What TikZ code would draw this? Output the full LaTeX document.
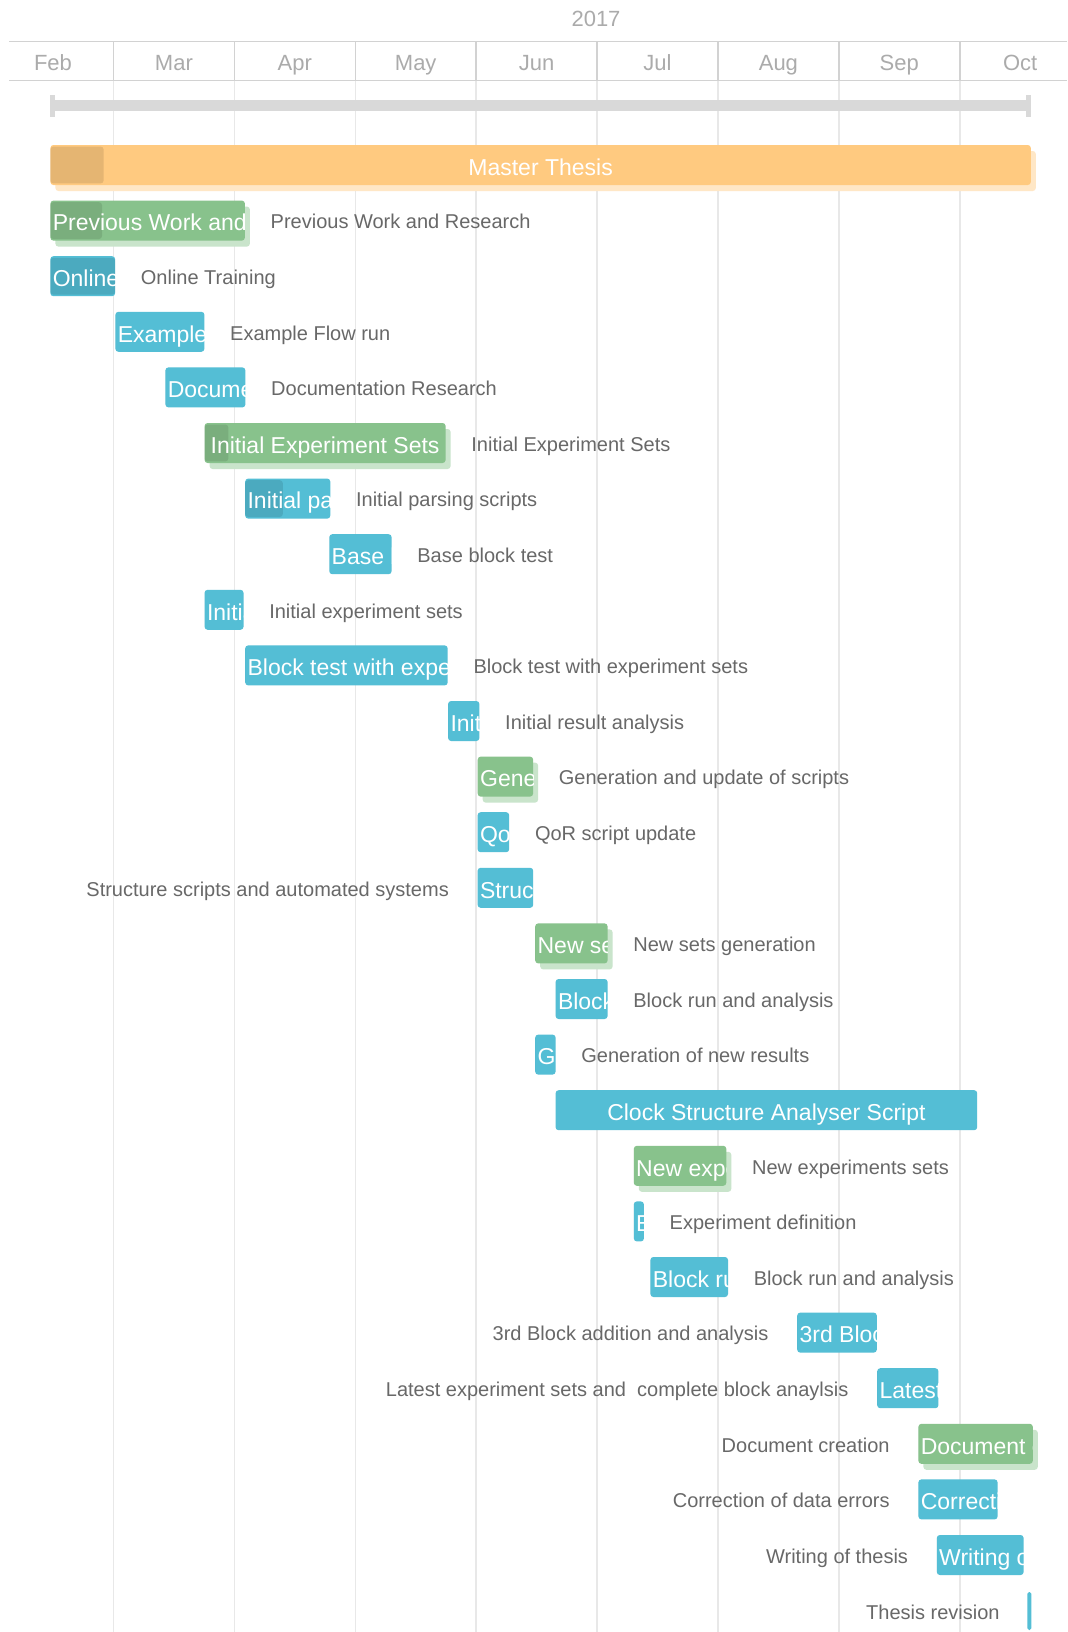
\documentclass[tikz,border=0pt]{standalone}
\usepackage{fontspec}
\setmainfont{Liberation Sans}
\usetikzlibrary{positioning,shadows}

\definecolor{barblue}{HTML}{54BED5}
\definecolor{bargreen}{HTML}{88C28C}
\definecolor{barorange}{HTML}{FFCA80}
\definecolor{labelgray}{HTML}{686868}
\definecolor{monthgray}{HTML}{ABABAB}
\definecolor{gridgray}{HTML}{E8E8E8}
\definecolor{headgray}{HTML}{D2D2D2}
\definecolor{rangegray}{HTML}{D9D9D9}

\begin{document}
\begin{tikzpicture}[x=0.5pt, y=-0.5pt,
  taskbar/.style={anchor=west, rectangle, rounded corners=1.5pt, fill=barblue, minimum height=20pt, inner sep=0pt,
    text=white, text height=10.4pt, text depth=0pt, font=\fontsize{11.5}{13}\selectfont},
  groupbar/.style={taskbar, fill=#1, general shadow={fill=#1!45, shadow xshift=2.5pt, shadow yshift=-3pt}},
  groupbar/.default=bargreen,
  len/.style={minimum width={#1*0.5pt}},
  cut/.style 2 args={path picture={
    \fill[black, opacity=0.1, rounded corners=1.5pt] ([yshift=0.8pt]path picture bounding box.south west) rectangle ([xshift=#2, yshift=-0.8pt]path picture bounding box.north west);
    \node[anchor=base west, inner sep=0pt, text=white] at ([xshift=1pt, yshift=-5.1pt]path picture bounding box.west) {#1};}},
  cuttext/.style={cut={#1}{0pt}},
  tasklabel/.style={inner sep=0pt, text=labelgray, text height=8.2pt, text depth=0pt, font=\fontsize{10}{12}\selectfont},
  month/.style={inner sep=0pt, text=monthgray, text height=7.9pt, text depth=0pt, font=\fontsize{11}{13}\selectfont}]

  \useasboundingbox[fill=white] (0,0) rectangle (1067,1632);

  % month grid and header
  \foreach \i in {0,...,7}{
    \draw[gridgray, line width=0.75pt] (113.5+120.9*\i,80.3) -- (113.5+120.9*\i,1632);
    \draw[headgray, line width=0.75pt] (113.5+120.9*\i,41.7) -- (113.5+120.9*\i,80.3);
  }
  \draw[headgray, line width=0.75pt] (9.3,41.7) -- (1067,41.7);
  \draw[headgray, line width=0.75pt] (9.3,80.3) -- (1067,80.3);
  \node[month] (year) at (596,19) {2017};
  \foreach \m [count=\i from 0] in {Feb,Mar,Apr,May,Jun,Jul,Aug,Sep,Oct}
    \node[month] (\m) at (53+120.9*\i,62.3) {\m};

  % project range
  \draw[rangegray, line width=5.5pt] (50,105.5) -- (1030,105.5);
  \fill[rangegray] (50,95) rectangle (55,116.7);
  \fill[rangegray] (1025.5,95) rectangle (1030.5,116.7);

  % tasks
  \node[groupbar=barorange, len=980.4, cut={}{26.65pt}] (thesis) at (50,165) {Master Thesis};

  \node[groupbar, len=194.5, cut={Previous Work and Research}{25.8pt}] (prev) at (50,220.6) {};
  \node[tasklabel, right=12.5pt of prev] (prevtext) {Previous Work and Research};

  \node[taskbar, len=64.7, cut={Online Training}{32.35pt}] (online) at (50,276.2) {};
  \node[tasklabel, right=12.5pt of online] (onlinetext) {Online Training};

  \node[taskbar, len=89, cuttext={Example Flow run}] (flow) at (115,331.8) {};
  \node[tasklabel, right=12.5pt of flow] (flowtext) {Example Flow run};

  \node[taskbar, len=80, cuttext={Documentation Research}] (docs) at (165,387.4) {};
  \node[tasklabel, right=12.5pt of docs] (docstext) {Documentation Research};

  \node[groupbar, len=241, cut={}{11.9pt}] (initsets) at (204.2,443) {Initial Experiment Sets};
  \node[tasklabel, right=12.5pt of initsets] (initsetstext) {Initial Experiment Sets};

  \node[taskbar, len=85.1, cut={Initial parsing scripts}{18.8pt}] (parsing) at (244.8,498.6) {};
  \node[tasklabel, right=12.5pt of parsing] (parsingtext) {Initial parsing scripts};

  \node[taskbar, len=62.3, cuttext={Base block test}] (base) at (328.9,554.2) {};
  \node[tasklabel, right=12.5pt of base] (basetext) {Base block test};

  \node[taskbar, len=38.9, cuttext={Initial experiment sets}] (initexp) at (204.2,609.8) {};
  \node[tasklabel, right=12.5pt of initexp] (initexptext) {Initial experiment sets};

  \node[taskbar, len=202.5, cuttext={Block test with experiment sets}] (blocktest) at (244.8,665.4) {};
  \node[tasklabel, right=12.5pt of blocktest] (blocktesttext) {Block test with experiment sets};

  \node[taskbar, len=31.3, cuttext={Initial result analysis}] (results) at (447.7,721) {};
  \node[tasklabel, right=12.5pt of results] (resultstext) {Initial result analysis};

  \node[groupbar, len=55.4, cuttext={Generation and update of scripts}] (scripts) at (477.3,776.6) {};
  \node[tasklabel, right=12.5pt of scripts] (scriptstext) {Generation and update of scripts};

  \node[taskbar, len=31.6, cuttext={QoR script update}] (qor) at (477.2,832.2) {};
  \node[tasklabel, right=12.5pt of qor] (qortext) {QoR script update};

  \node[taskbar, len=55.6, cuttext={Structure scripts and automated systems}] (struc) at (477.2,887.8) {};
  \node[tasklabel, left=14pt of struc] (structext) {Structure scripts and automated systems};

  \node[groupbar, len=72.4, cuttext={New sets generation}] (newsets) at (534.8,943.4) {};
  \node[tasklabel, right=12.5pt of newsets] (newsetstext) {New sets generation};

  \node[taskbar, len=52, cuttext={Block run and analysis}] (blockrun) at (555.2,999) {};
  \node[tasklabel, right=12.5pt of blockrun] (blockruntext) {Block run and analysis};

  \node[taskbar, len=20.4, cuttext={Generation of new results}] (newresults) at (534.8,1054.6) {};
  \node[tasklabel, right=12.5pt of newresults] (newresultstext) {Generation of new results};

  \node[taskbar, len=421.6] (analyser) at (555.2,1110.2) {Clock Structure Analyser Script};

  \node[groupbar, len=92.5, cuttext={New experiments sets}] (newexp) at (633.4,1165.8) {};
  \node[tasklabel, right=12.5pt of newexp] (newexptext) {New experiments sets};

  \node[taskbar, len=10.1, cuttext={Experiment definition}] (expdef) at (633.4,1221.4) {};
  \node[tasklabel, right=12.5pt of expdef] (expdeftext) {Experiment definition};

  \node[taskbar, len=77.6, cuttext={Block run and analysis}] (blockrunb) at (650,1277) {};
  \node[tasklabel, right=12.5pt of blockrunb] (blockrunbtext) {Block run and analysis};

  \node[taskbar, len=79.6, cuttext={3rd Block addition and analysis}] (thirdblock) at (796.8,1332.6) {};
  \node[tasklabel, left=14pt of thirdblock] (thirdblocktext) {3rd Block addition and analysis};

  \node[taskbar, len=61.2, cuttext={Latest experiment sets and\ \ complete block anaylsis}] (latest) at (876.8,1388.2) {};
  \node[tasklabel, left=14pt of latest] (latesttext) {Latest experiment sets and\ \ complete block anaylsis};

  \node[groupbar, len=114.4, cuttext={Document creation}] (document) at (918,1443.8) {};
  \node[tasklabel, left=14pt of document] (documenttext) {Document creation};

  \node[taskbar, len=79.2, cuttext={Correction of data errors}] (correction) at (918,1499.4) {};
  \node[tasklabel, left=14pt of correction] (correctiontext) {Correction of data errors};

  \node[taskbar, len=86.8, cuttext={Writing of thesis}] (writing) at (936.4,1555) {};
  \node[tasklabel, left=14pt of writing] (writingtext) {Writing of thesis};

  \node[taskbar, len=4, minimum height=19pt, rounded corners=0.9pt] (revision) at (1027,1611) {};
  \node[tasklabel, left=13.5pt of revision] (revisiontext) {Thesis revision};
\end{tikzpicture}
\end{document}
